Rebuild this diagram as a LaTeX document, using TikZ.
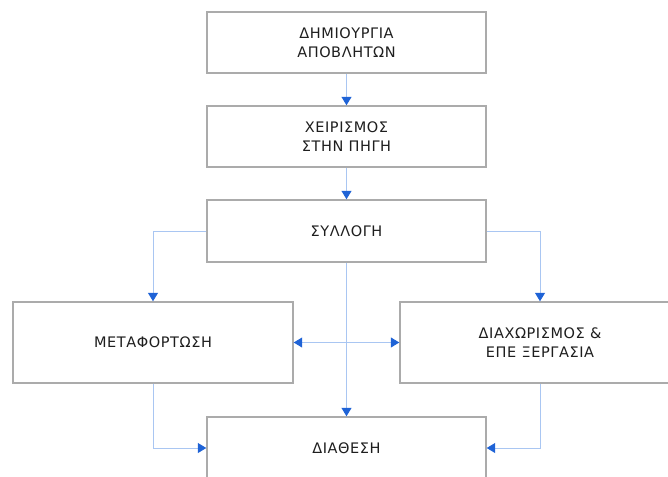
\documentclass[tikz,border=0pt]{standalone}
\usepackage{fontspec}
\setmainfont{DejaVu Sans}[LetterSpace=4]
\usetikzlibrary{arrows.meta}
\definecolor{boxgray}{HTML}{ABABAB}
\definecolor{linkblue}{HTML}{A9C6F2}
\definecolor{tipblue}{HTML}{1F63D6}
\definecolor{textgray}{HTML}{1E1E1E}
\tikzset{
  stagebox/.style={draw=boxgray, line width=1.4pt, fill=white, text=textgray,
    minimum width=279pt, minimum height=61pt, inner sep=0pt, align=center,
    font=\fontsize{14.5}{19}\selectfont},
  widebox/.style={stagebox, minimum width=280pt, minimum height=81pt},
  link/.style={draw=linkblue, line width=1pt,
    -{Triangle[width=10pt,length=8.5pt,color=tipblue]}},
  duallink/.style={link, {Triangle[width=10pt,length=8.5pt,color=tipblue]}-{Triangle[width=10pt,length=8.5pt,color=tipblue]}}
}
\begin{document}
\begin{tikzpicture}[x=1pt,y=-1pt]
  \useasboundingbox (0,0) rectangle (668,476);
  \clip (0,0) rectangle (668,476);
  % process stages
  \node[stagebox] (gen)   at (346.5,42.5)  {ΔΗΜΙΟΥΡΓΙΑ\\ΑΠΟΒΛΗΤΩΝ};
  \node[stagebox] (hand)  at (346.5,136.5) {ΧΕΙΡΙΣΜΟΣ\\ΣΤΗΝ ΠΗΓΗ};
  \node[stagebox, minimum height=62pt] (coll) at (346.5,231) {ΣΥΛΛΟΓΗ};
  \node[widebox] (trans)  at (153,342.5)   {ΜΕΤΑΦΟΡΤΩΣΗ};
  \node[widebox] (sep)    at (540,342.5)   {ΔΙΑΧΩΡΙΣΜΟΣ \&\\ΕΠΕ ΞΕΡΓΑΣΙΑ};
  \node[stagebox, minimum height=62pt] (disp) at (346.5,448) {ΔΙΑΘΕΣΗ};
  % flow between stages
  \draw[link] (gen) -- (hand);
  \draw[link] (hand) -- (coll);
  \draw[link] (coll.west) -| (trans.north);
  \draw[link] (coll.east) -| (sep.north);
  \draw[link] (coll) -- (disp);
  \draw[duallink] (trans.east) -- (sep.west);
  \draw[link] (trans.south) |- (disp.west);
  \draw[link] (sep.south) |- (disp.east);
\end{tikzpicture}
\end{document}
